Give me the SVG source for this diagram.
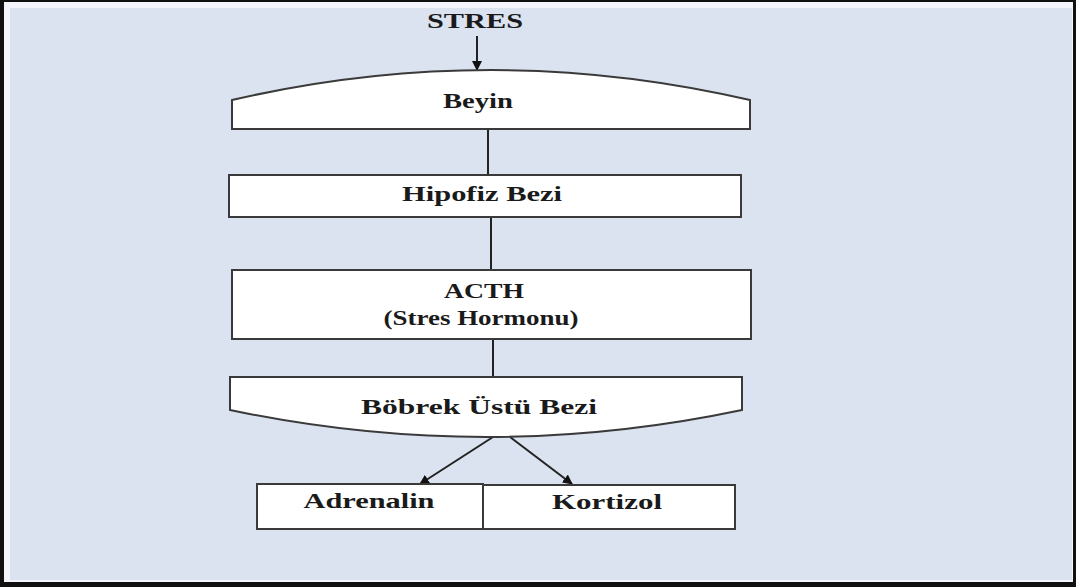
<svg xmlns="http://www.w3.org/2000/svg" width="1076" height="587" viewBox="0 0 1076 587">
<defs>
<style>
.bg{fill:#dbe2f0}
.box{fill:#ffffff;stroke:#3a3a3a;stroke-width:2}
.t{font-family:"Liberation Serif","Times New Roman",serif;font-weight:bold;font-size:22px;fill:#1a1a1a;text-anchor:middle}
.c{stroke:#222;stroke-width:2;fill:none}
</style>
<marker id="ah" markerWidth="10" markerHeight="10" refX="9" refY="5" orient="auto" markerUnits="userSpaceOnUse">
<path d="M0,0 L10,5 L0,10 Z" fill="#111"/>
</marker>
</defs>
<rect x="0" y="0" width="1076" height="587" fill="#111"/>
<rect x="4" y="2" width="1069" height="580" fill="#f4f6fb"/>
<rect class="bg" x="10" y="8" width="1062" height="572"/>

<g id="connectors">
<line class="c" x1="477" y1="36" x2="477" y2="70" marker-end="url(#ah)"/>
<line class="c" x1="488" y1="129" x2="488" y2="175"/>
<line class="c" x1="491" y1="217" x2="491" y2="270"/>
<line class="c" x1="493" y1="339" x2="493" y2="377"/>
<line class="c" x1="493" y1="437" x2="420" y2="484" marker-end="url(#ah)"/>
<line class="c" x1="510" y1="437" x2="572" y2="484" marker-end="url(#ah)"/>
</g>

<g id="stres">
<text class="t" x="475" y="28" textLength="96" lengthAdjust="spacingAndGlyphs">STRES</text>
</g>

<g id="beyin">
<path class="box" d="M232,129 L232,100 Q491,40 750,100 L750,129 Z"/>
<text class="t" x="478" y="108" textLength="70" lengthAdjust="spacingAndGlyphs">Beyin</text>
</g>

<g id="hipofiz">
<rect class="box" x="229" y="175" width="512" height="42"/>
<text class="t" x="482" y="201" textLength="160" lengthAdjust="spacingAndGlyphs">Hipofiz Bezi</text>
</g>

<g id="acth">
<rect class="box" x="232" y="270" width="519" height="69"/>
<text class="t" x="484" y="298" textLength="80" lengthAdjust="spacingAndGlyphs">ACTH</text>
<text class="t" x="481" y="325" textLength="195" lengthAdjust="spacingAndGlyphs">(Stres Hormonu)</text>
</g>

<g id="bobrek">
<path class="box" d="M230,377 L742,377 L742,410 Q486,464 230,410 Z"/>
<text class="t" x="479" y="414" textLength="236" lengthAdjust="spacingAndGlyphs">Böbrek Üstü Bezi</text>
</g>

<g id="adrenalin">
<rect class="box" x="257" y="484" width="226" height="45"/>
<text class="t" x="369" y="508" textLength="131" lengthAdjust="spacingAndGlyphs">Adrenalin</text>
</g>

<g id="kortizol">
<rect class="box" x="483" y="485" width="252" height="44"/>
<text class="t" x="607" y="509" textLength="110" lengthAdjust="spacingAndGlyphs">Kortizol</text>
</g>
</svg>
